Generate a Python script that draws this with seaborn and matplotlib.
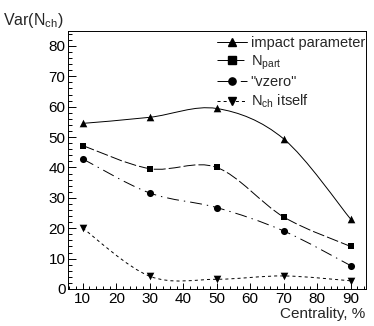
import matplotlib
matplotlib.use("Agg")
import numpy as np
import pandas as pd
import matplotlib.pyplot as plt
import seaborn as sns
from matplotlib.path import Path
from matplotlib.patches import PathPatch
from matplotlib.lines import Line2D
from matplotlib.ticker import MultipleLocator

# Data
centrality = [10, 30, 50, 70, 90]
impact_parameter = [54.5, 56.5, 59.4, 49.4, 23.0]
n_part = [47.2, 39.6, 40.0, 23.7, 14.0]
vzero = [42.8, 31.6, 26.8, 19.1, 7.7]
nch_itself = [20.0, 4.2, 3.2, 4.3, 2.7]

series_names = ["impact parameter", "N$_{\\mathrm{part}}$", '"vzero"', "N$_{\\mathrm{ch}}$ itself"]
series_values = [impact_parameter, n_part, vzero, nch_itself]
series_markers = ["^", "s", "o", "v"]
series_sizes = [30, 24, 26, 30]
series_dashes = ["-", (0, (8.6, 2.2)), (0, (8.6, 3.6, 1.0, 3.6)), (0, (2.2, 2.2))]

sns.set_style("ticks")
plt.rcParams["font.family"] = ["Liberation Sans", "DejaVu Sans"]
plt.rcParams["mathtext.fontset"] = "custom"
plt.rcParams["mathtext.rm"] = "Liberation Sans"
plt.rcParams["mathtext.it"] = "Liberation Sans:italic"
plt.rcParams["lines.scale_dashes"] = False


# smooth curve through the points (like ROOT "C" option), drawn as bezier path
def smooth_path(x, y):
    pts = np.column_stack([x, y]).astype(float)
    ext = np.vstack([pts[0], pts, pts[-1]])
    verts = [pts[0]]
    codes = [Path.MOVETO]
    for i in range(len(pts) - 1):
        p0, p1, p2, p3 = ext[i], ext[i + 1], ext[i + 2], ext[i + 3]
        verts += [p1 + (p2 - p0) / 6.0, p2 - (p3 - p1) / 6.0, p2]
        codes += [Path.CURVE4] * 3
    return Path(verts, codes)


df = pd.DataFrame({
    "centrality": centrality * len(series_names),
    "var": sum(series_values, []),
    "series": np.repeat(series_names, len(centrality)),
})

fig = plt.figure(figsize=(3.74, 3.26), dpi=100)
ax = fig.add_axes([67.7 / 374, 1 - 289 / 326, (365.7 - 67.7) / 374, (289 - 30.7) / 326])

for name, vals, ls in zip(series_names, series_values, series_dashes):
    ax.add_patch(PathPatch(smooth_path(centrality, vals), fill=False, edgecolor="black",
                           linewidth=0.7, linestyle=ls))

for name, marker, size in zip(series_names, series_markers, series_sizes):
    sns.scatterplot(data=df[df["series"] == name], x="centrality", y="var", marker=marker,
                    s=size, color="black", edgecolor="black", linewidth=0, ax=ax, legend=False)

ax.set_xlim(5.5, 94.5)
ax.set_ylim(0, 85)
ax.xaxis.set_major_locator(MultipleLocator(10))
ax.xaxis.set_minor_locator(MultipleLocator(2))
ax.yaxis.set_major_locator(MultipleLocator(10))
ax.yaxis.set_minor_locator(MultipleLocator(2))
ax.tick_params(axis="both", which="both", direction="in", width=0.7, top=False, right=False,
               labelsize=11, colors="black")
ax.tick_params(axis="y", which="major", length=5.8, pad=1.5)
ax.tick_params(axis="y", which="minor", length=2.9)
ax.tick_params(axis="x", which="major", length=4.0, pad=2.2)
ax.tick_params(axis="x", which="minor", length=2.2)
for sp in ax.spines.values():
    sp.set_linewidth(0.7)
    sp.set_color("black")
ax.set_xlabel("")
ax.set_ylabel("")

fig.text(3 / 374, 1 - 25 / 326, "Var(N$_{\\mathrm{ch}}$)", fontsize=11.5, ha="left", va="baseline")
fig.text(365 / 374, 1 - 318 / 326, "Centrality, %", fontsize=11, ha="right", va="baseline")

handles = [Line2D([], [], color="black", linewidth=0.7, linestyle=ls, marker=m, markersize=5.2)
           for ls, m in zip(series_dashes, series_markers)]
ax.legend(handles, series_names, loc="upper left", bbox_to_anchor=(217 / 374, 1 - 36 / 326),
          bbox_transform=fig.transFigure, frameon=False, fontsize=10.5, handlelength=2.05,
          handletextpad=0.25, labelspacing=0.24, borderpad=0, borderaxespad=0)

fig.savefig("out.png", dpi=100)
